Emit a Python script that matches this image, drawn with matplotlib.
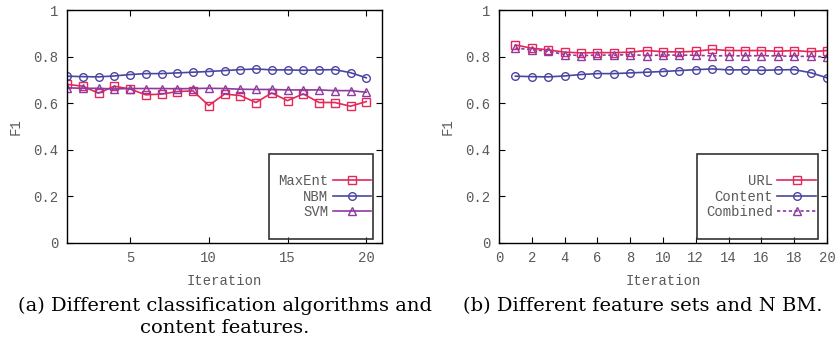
import matplotlib
matplotlib.use("Agg")
import matplotlib.pyplot as plt
from matplotlib.patches import Rectangle

iterations = list(range(1, 21))
maxent = [0.681, 0.673, 0.643, 0.673, 0.661, 0.636, 0.639, 0.650, 0.653, 0.590,
          0.639, 0.633, 0.603, 0.644, 0.611, 0.640, 0.603, 0.603, 0.587, 0.607]
nbm = [0.716, 0.714, 0.713, 0.717, 0.723, 0.727, 0.727, 0.730, 0.733, 0.736,
       0.740, 0.744, 0.747, 0.743, 0.743, 0.741, 0.743, 0.744, 0.731, 0.709]
svm = [0.666, 0.664, 0.664, 0.661, 0.663, 0.663, 0.663, 0.662, 0.663, 0.664,
       0.663, 0.660, 0.659, 0.659, 0.657, 0.657, 0.657, 0.654, 0.654, 0.647]
url = [0.850, 0.836, 0.829, 0.819, 0.816, 0.817, 0.817, 0.819, 0.826, 0.821,
       0.820, 0.823, 0.831, 0.826, 0.826, 0.826, 0.823, 0.826, 0.821, 0.826]
content = nbm
combined = [0.836, 0.830, 0.823, 0.809, 0.804, 0.807, 0.806, 0.809, 0.804, 0.807,
            0.806, 0.806, 0.803, 0.804, 0.803, 0.804, 0.803, 0.801, 0.801, 0.799]

left_xticks = [5, 10, 15, 20]
right_xticks = list(range(0, 21, 2))
yticks = [0, 0.2, 0.4, 0.6, 0.8, 1]
ytick_labels = ["0", "0.2", "0.4", "0.6", "0.8", "1"]

RED = "#e3285a"
BLUE = "#4a45a0"
PURPLE = "#8e3a9e"
MONO = "Liberation Mono"
TICKC = "#5a5a5a"

W, H = 838, 346
fig = plt.figure(figsize=(W / 100, H / 100), dpi=100)

def setup(ax, xlim, xticks):
    ax.set_xlim(*xlim)
    ax.set_ylim(0, 1)
    ax.set_xticks(xticks)
    ax.set_xticklabels([str(t) for t in xticks], family=MONO, fontsize=10, color=TICKC)
    ax.set_yticks(yticks)
    ax.set_yticklabels(ytick_labels, family=MONO, fontsize=10, color=TICKC)
    ax.tick_params(direction="in", top=True, right=True, length=4, width=0.8, pad=6)
    for s in ax.spines.values():
        s.set_linewidth(1.0)
    ax.set_xlabel("Iteration", family=MONO, fontsize=10, color=TICKC, labelpad=6)
    ax.set_ylabel("F1", family=MONO, fontsize=10, color=TICKC, labelpad=8)

ms = 5.5
axL = fig.add_axes([67 / W, (H - 243) / H, 315 / W, 233 / H])
axL.plot(iterations, maxent, color=RED, marker="s", ms=ms, mfc="none", mew=1, lw=1.2, label="MaxEnt")
axL.plot(iterations, nbm, color=BLUE, marker="o", ms=ms, mfc="none", mew=1, lw=1.2, label="NBM")
axL.plot(iterations, svm, color=PURPLE, marker="^", ms=ms, mfc="none", mew=1, lw=1.2, label="SVM")
setup(axL, (1, 21), left_xticks)

axR = fig.add_axes([499 / W, (H - 243) / H, 328 / W, 233 / H])
axR.plot(iterations, url, color=RED, marker="s", ms=ms, mfc="none", mew=1, lw=1.2, label="URL")
axR.plot(iterations, content, color=BLUE, marker="o", ms=ms, mfc="none", mew=1, lw=1.2, label="Content")
axR.plot(iterations, combined, color=PURPLE, marker="^", ms=ms, mfc="none", mew=1, lw=1.2,
         ls=(0, (2, 1.5)), label="Combined")
setup(axR, (0, 20), right_xticks)

def legend_box(ax, ax_x0, ax_w, bx0, bx1):
    x0 = (bx0 - ax_x0) / ax_w
    x1 = (bx1 - ax_x0) / ax_w
    y0 = (243 - 239) / 233
    y1 = (243 - 154) / 233
    ax.add_patch(Rectangle((x0, y0), x1 - x0, y1 - y0, transform=ax.transAxes,
                           fill=False, edgecolor="#333333", lw=1.2, clip_on=False, zorder=5))
    leg = ax.legend(loc="upper right", bbox_to_anchor=(x1 - 0.005, (243 - 174) / 233),
                    frameon=False, markerfirst=False, prop={"family": MONO, "size": 10},
                    handlelength=2.8, handletextpad=0.3, labelspacing=0.12, borderpad=0,
                    borderaxespad=0)
    for t in leg.get_texts():
        t.set_color(TICKC)

legend_box(axL, 67, 315, 269, 373)
legend_box(axR, 499, 328, 697, 818)

cap = dict(family="DejaVu Serif", fontsize=14, ha="center", va="center")
fig.text(225 / W, 1 - 306 / H, "(a) Different classification algorithms and", **cap)
fig.text(225 / W, 1 - 328 / H, "content features.", **cap)
fig.text(643 / W, 1 - 306 / H, "(b) Different feature sets and N BM.", **cap)

fig.savefig("out.png", dpi=100)
